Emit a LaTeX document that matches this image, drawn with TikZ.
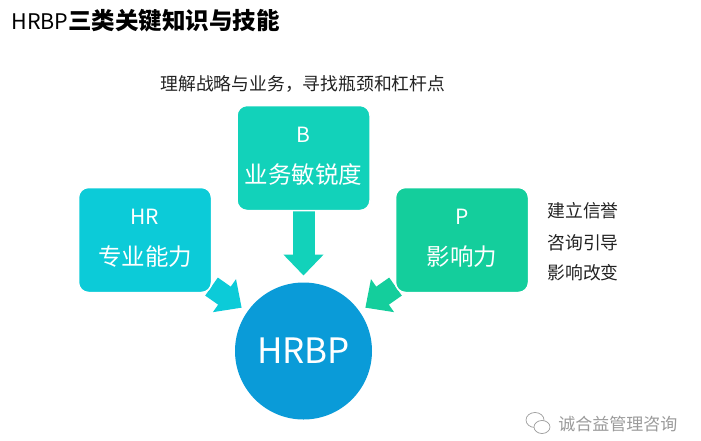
\documentclass[tikz,border=0pt]{standalone}
\usepackage{fontspec}
\setmainfont{Noto Sans CJK SC}
\usepackage{tikz}
\usetikzlibrary{arrows.meta, backgrounds}
\definecolor{hrcolor}{HTML}{0CCBD8}
\definecolor{bcolor}{HTML}{12D2BA}
\definecolor{pcolor}{HTML}{14CE9C}
\definecolor{hubcolor}{HTML}{0A9BD8}
\definecolor{inkcolor}{HTML}{222222}
\definecolor{markcolor}{HTML}{9A9A9A}
\newcommand{\boxletter}[1]{{\fontsize{21pt}{40pt}\selectfont #1}}

\begin{document}
\begin{tikzpicture}[x=1pt, y=-1pt, thick,
  box node/.style={rectangle,rounded corners=10pt,draw=white,line width=1.5pt,
    minimum width=133pt,minimum height=105pt,text=white,align=center,text depth=5pt,
    font=\fontsize{23.5pt}{40pt}\selectfont,outer sep=0pt},
  hub node/.style={circle,fill=hubcolor,minimum size=137pt,inner sep=0pt,outer sep=0pt,
    text=white,font=\fontsize{35pt}{40pt}\selectfont},
  note node/.style={text=inkcolor,inner sep=0pt,anchor=west,font=\fontsize{17.8pt}{20pt}\selectfont},
  fat arrow/.style={line width=22pt,-{Triangle[length=21pt,width=39pt]},shorten >=7pt}]
\useasboundingbox (0,0) rectangle (701,440);

\node[hub node] (hub) at (303.5,351) {HRBP};
\node[box node,fill=bcolor] (B) [above of=hub, node distance=193pt] {\boxletter{B}\\[1pt]业务敏锐度};
\node[box node,fill=hrcolor] (HR) at (145,240) {\boxletter{HR}\\[1pt]专业能力};
\node[box node,fill=pcolor] (P) [right of=HR, node distance=317pt] {\boxletter{P}\\[1pt]影响力};

\begin{scope}[on background layer]
\draw[fat arrow,draw=hrcolor] (HR) -- (hub);
\draw[fat arrow,draw=bcolor] (B) -- (hub);
\draw[fat arrow,draw=pcolor] (P) -- (hub);
\end{scope}

\node[anchor=west,inner sep=0pt,text=black,font=\fontsize{23.5pt}{26pt}\selectfont] (title) at (11,21) {{\fontsize{21.5pt}{26pt}\selectfont HRBP}\textbf{三类关键知识与技能}};
\node[note node] (goal) at (160,84) {理解战略与业务，寻找瓶颈和杠杆点};
\node[note node] (trust) at (547,211) {建立信誉};
\node[note node] (advise) at (547,243) {咨询引导};
\node[note node] (change) at (547,273) {影响改变};
\node[anchor=west,inner sep=0pt,text=markcolor,font=\fontsize{17pt}{20pt}\selectfont] (mark) at (558,424) {诚合益管理咨询};

\draw[markcolor,line width=0.7pt,fill=white] (535,420) ellipse (9pt and 7.5pt);
\draw[markcolor,line width=0.7pt,fill=white] (542,427) ellipse (8pt and 6.5pt);
\end{tikzpicture}
\end{document}
